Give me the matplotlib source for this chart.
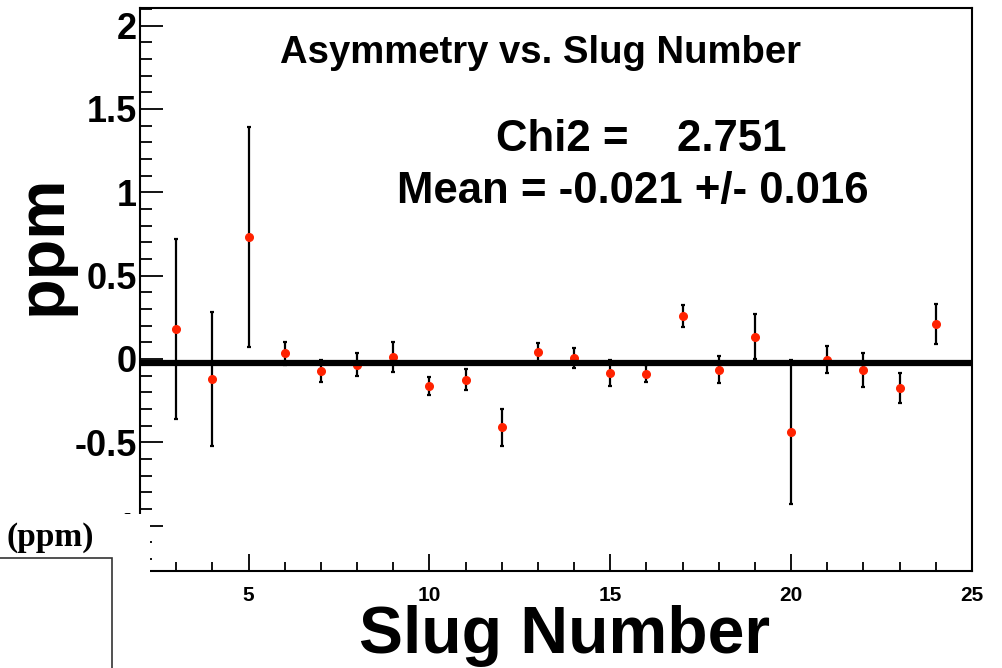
import numpy as np
import matplotlib
matplotlib.use('Agg')
import matplotlib.pyplot as plt
from matplotlib.patches import Rectangle
from matplotlib.ticker import MultipleLocator, FuncFormatter

plt.rcParams['font.family'] = ['Liberation Sans', 'DejaVu Sans']
plt.rcParams['axes.unicode_minus'] = False

# asymmetry per slug (ppm)
slugs = [3, 4, 5, 6, 7, 8, 9, 10, 11, 12, 13, 14, 15, 16, 17, 18, 19, 20, 21, 22, 23, 24]
asym = [0.18, -0.12, 0.73, 0.035, -0.07, -0.033, 0.01, -0.16, -0.123, -0.41, 0.04,
        0.005, -0.083, -0.087, 0.26, -0.063, 0.135, -0.437, -0.003, -0.067, -0.173, 0.213]
asym_err = [0.54, 0.40, 0.66, 0.07, 0.065, 0.067, 0.09, 0.055, 0.065, 0.11, 0.055,
            0.06, 0.077, 0.05, 0.065, 0.08, 0.135, 0.43, 0.08, 0.103, 0.09, 0.12]
mean_val = -0.021
mean_err = 0.016
chi2 = 2.751

W, H = 1002, 668
fig = plt.figure(figsize=(W / 100, H / 100), dpi=100)
ax = fig.add_axes([140 / W, 1 - 571 / H, 832 / W, 563 / H])

ax.errorbar(slugs, asym, yerr=asym_err, fmt='o', color='#ff2200', markersize=5.5,
            ecolor='black', elinewidth=1.6, capsize=1.5, capthick=1.6, zorder=3)
ax.axhline(mean_val, color='black', linewidth=4.5, zorder=4)

ax.set_xlim(2, 25)
ax.set_ylim(-1.272, 2.106)

ax.xaxis.set_major_locator(MultipleLocator(5))
ax.xaxis.set_minor_locator(MultipleLocator(1))
ax.yaxis.set_major_locator(MultipleLocator(0.5))
ax.yaxis.set_minor_locator(MultipleLocator(0.1))
ax.yaxis.set_major_formatter(FuncFormatter(lambda v, p: '%g' % v))

ax.tick_params(axis='y', which='major', direction='in', length=16.5, width=1.3,
               labelsize=26, pad=2, right=False)
ax.tick_params(axis='y', which='minor', direction='in', length=8.5, width=1.3, right=False)
ax.tick_params(axis='x', which='major', direction='in', length=12, width=1.3,
               labelsize=15, pad=11, top=False)
ax.tick_params(axis='x', which='minor', direction='in', length=6.5, width=1.3, top=False)
for lbl in ax.get_xticklabels() + ax.get_yticklabels():
    lbl.set_fontweight('bold')
for s in ax.spines.values():
    s.set_linewidth(1.5)

# texts placed in pixel positions of the original
fig.text(540 / W, 1 - 63 / H, 'Asymmetry vs. Slug Number', ha='center', va='baseline',
         fontsize=27.5, fontweight='bold')
fig.text(641 / W, 1 - 151 / H, 'Chi2 =    %.3f' % chi2, ha='center', va='baseline',
         fontsize=31.5, fontweight='bold')
fig.text(633 / W, 1 - 203 / H, 'Mean = %.3f +/- %.3f' % (mean_val, mean_err),
         ha='center', va='baseline', fontsize=31.5, fontweight='bold')

fig.text(565 / W, 1 - 653 / H, 'Slug Number', ha='center', va='baseline',
         fontsize=47.5, fontweight='bold')
fig.text(44 / W, 1 - 245 / H, 'ppm', ha='center', va='center', rotation=90,
         fontsize=48, fontweight='bold')

# pasted-over corner of the screenshot
fig.add_artist(Rectangle((0, 0), 150 / W, 154 / H, transform=fig.transFigure,
                         facecolor='white', edgecolor='none', zorder=5))
fig.add_artist(Rectangle((-0.01, -0.01), 112 / W + 0.01, (H - 558) / H + 0.01,
                         transform=fig.transFigure, facecolor='none',
                         edgecolor='#333333', linewidth=1.2, zorder=6))
fig.text(7 / W, 1 - 546 / H, '(ppm)', ha='left', va='baseline', fontsize=24,
         fontweight='bold', family=['Liberation Serif', 'DejaVu Serif'], zorder=7)

fig.savefig('out.png', dpi=100)
